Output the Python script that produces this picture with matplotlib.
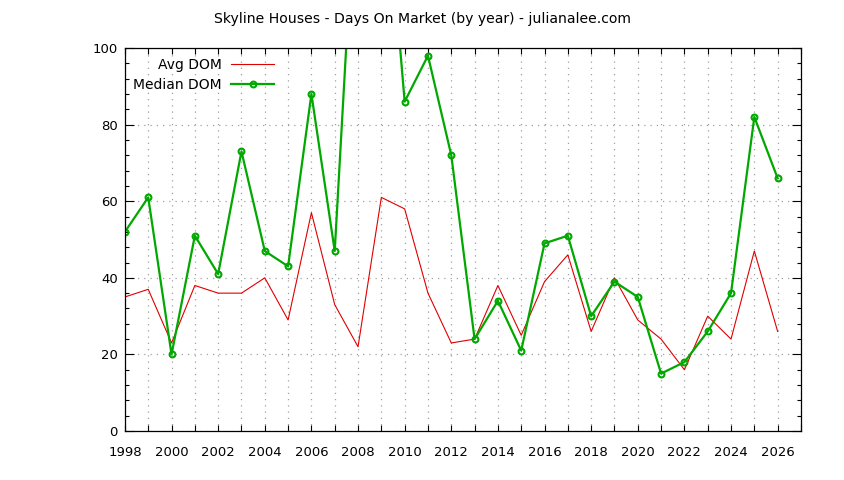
import matplotlib
matplotlib.use("Agg")
import matplotlib.pyplot as plt
from matplotlib.ticker import MultipleLocator, FuncFormatter

YEARS = list(range(1998, 2027))
AVG_DOM = [35, 37, 23, 38, 36, 36, 40, 29, 57, 33, 22, 61, 58, 36, 23, 24,
           38, 25, 39, 46, 26, 40, 29, 24, 16, 30, 24, 47, 26]
MEDIAN_DOM = [52, 61, 20, 51, 41, 73, 47, 43, 88, 47, 155, 158, 86, 98, 72, 24,
              34, 21, 49, 51, 30, 39, 35, 15, 18, 26, 36, 82, 66]

TITLE = "Skyline Houses - Days On Market (by year) - julianalee.com"

plt.rcParams["font.family"] = ["DejaVu Sans"]


def year_label(v, pos):
    y = int(round(v))
    return str(y) if y % 2 == 0 else ""


def draw() -> None:
    fig = plt.figure(figsize=(8.44, 4.8), dpi=100)
    ax = fig.add_axes([0.148, 0.102, 0.801, 0.798])

    avg, = ax.plot(YEARS, AVG_DOM, color="#e00000", lw=0.8, label="Avg DOM")
    med, = ax.plot(YEARS, MEDIAN_DOM, color="#00a800", lw=1.6, marker="o",
                   ms=4.2, mfc="none", mew=1.5, label="Median DOM")

    ax.set_xlim(1998, 2027)
    ax.set_ylim(0, 100)

    ax.xaxis.set_major_locator(MultipleLocator(1))
    ax.xaxis.set_major_formatter(FuncFormatter(year_label))
    ax.yaxis.set_major_locator(MultipleLocator(20))
    ax.yaxis.set_minor_locator(MultipleLocator(4))

    ax.tick_params(which="both", direction="in", top=True, right=True,
                   labelsize=9.5, width=0.8, colors="black")
    ax.tick_params(axis="y", which="major", length=6.5, pad=5)
    ax.tick_params(axis="y", which="minor", length=3.2)
    ax.tick_params(axis="x", which="major", length=4.5, pad=11)

    ax.grid(True, which="major", color="#a0a0a0", lw=0.9, ls=(0, (1, 4)))
    for s in ax.spines.values():
        s.set_linewidth(0.9)

    # one legend per entry, both right-aligned at the same x (gnuplot style key)
    common = dict(frameon=False, markerfirst=False, fontsize=10,
                  handlelength=3.1, handletextpad=0.7, borderpad=0,
                  borderaxespad=0, loc="center right")
    leg1 = ax.legend(handles=[avg], bbox_to_anchor=(0.221, 0.956), **common)
    ax.add_artist(leg1)
    ax.legend(handles=[med], bbox_to_anchor=(0.221, 0.903), **common)

    fig.text(0.5, 0.96, TITLE, ha="center", va="center", fontsize=10.1)

    fig.savefig("out.png", dpi=100)


draw()
